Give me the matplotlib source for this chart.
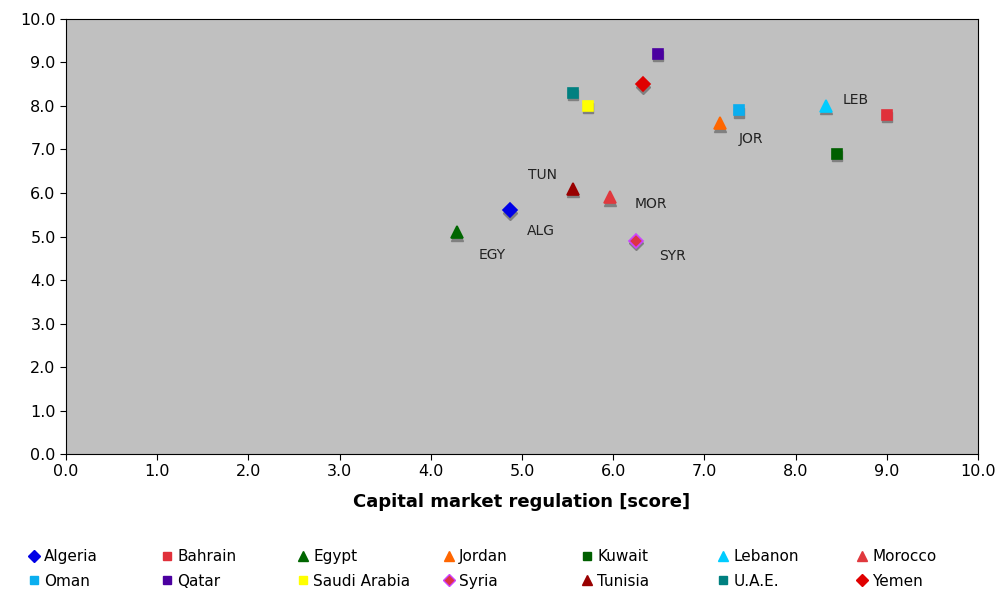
import matplotlib
matplotlib.use('Agg')
import matplotlib.pyplot as plt
import matplotlib.transforms as mtransforms
from matplotlib.lines import Line2D

countries = ['Algeria', 'Bahrain', 'Egypt', 'Jordan', 'Kuwait', 'Lebanon', 'Morocco',
             'Oman', 'Qatar', 'Saudi Arabia', 'Syria', 'Tunisia', 'U.A.E.', 'Yemen']
regulation = [4.87, 9.0, 4.29, 7.17, 8.45, 8.33, 5.96, 7.38, 6.49, 5.72, 6.25, 5.56, 5.56, 6.33]
score = [5.6, 7.8, 5.1, 7.6, 6.9, 8.0, 5.9, 7.9, 9.2, 8.0, 4.9, 6.1, 8.3, 8.5]
short = ['ALG', '', 'EGY', 'JOR', '', 'LEB', 'MOR', '', '', '', 'SYR', 'TUN', '', '']

markers = ['D', 's', '^', '^', 's', '^', '^', 's', 's', 's', 'D', '^', 's', 'D']
faces = ['#0000E6', '#E0303A', '#006600', '#FF6600', '#005F00', '#00CCFF', '#E0393E',
         '#0AAEEF', '#4B00A0', '#FFFF00', '#DD3344', '#990000', '#008080', '#E00000']
edges = list(faces)
edges[10] = '#CC44FF'
sizes = [7, 7, 8.5, 8.5, 7, 8.5, 8.5, 7, 7, 7, 7, 8.5, 7, 7]
# label offsets in pixels from the marker
offsets = {'ALG': (31, -21), 'EGY': (35, -23), 'JOR': (31, -16), 'LEB': (30, 6),
           'MOR': (41, -7), 'SYR': (36, -15), 'TUN': (-31, 14)}

fig = plt.figure(figsize=(10.01, 5.92), dpi=100)
ax = fig.add_axes([0.066, 0.233, 0.911, 0.735])
ax.set_facecolor('#C0C0C0')

shadow = mtransforms.offset_copy(ax.transData, fig=fig, x=0, y=-2.5, units='dots')
handles = []
for i in range(len(countries)):
    ax.plot(regulation[i], score[i], marker=markers[i], ms=sizes[i], color='#808080',
            mec='#808080', ls='none', transform=shadow, zorder=2)
    ax.plot(regulation[i], score[i], marker=markers[i], ms=sizes[i], mfc=faces[i],
            mec=edges[i], mew=1.2, ls='none', zorder=3)
    handles.append(Line2D([], [], marker=markers[i], ms=sizes[i] - 1, mfc=faces[i],
                          mec=edges[i], ls='none'))
    if short[i]:
        dx, dy = offsets[short[i]]
        ax.annotate(short[i], (regulation[i], score[i]), xytext=(dx * 0.72, dy * 0.72),
                    textcoords='offset points', ha='center', va='center', fontsize=10,
                    color='#222222')

ax.set_xlim(0, 10)
ax.set_ylim(0, 10)
ax.set_xticks(range(11))
ax.set_yticks(range(11))
ax.set_xticklabels(['%.1f' % v for v in range(11)], fontsize=11.5)
ax.set_yticklabels(['%.1f' % v for v in range(11)], fontsize=11.5)
ax.tick_params(direction='out', length=4)
ax.set_xlabel('Capital market regulation [score]', fontsize=13, fontweight='bold', labelpad=10)

# legend: 7 evenly spaced columns, two rows each
col_x = [34, 167, 303, 449, 587, 723, 862]
for c in range(7):
    leg = fig.legend([handles[c], handles[c + 7]], [countries[c], countries[c + 7]],
                     loc='center left', bbox_to_anchor=((col_x[c] - 5) / 1001, 1 - 569 / 592),
                     frameon=False, fontsize=11, handlelength=0.6, handletextpad=0.4,
                     labelspacing=0.62, borderpad=0, borderaxespad=0)

plt.savefig('out.png')
